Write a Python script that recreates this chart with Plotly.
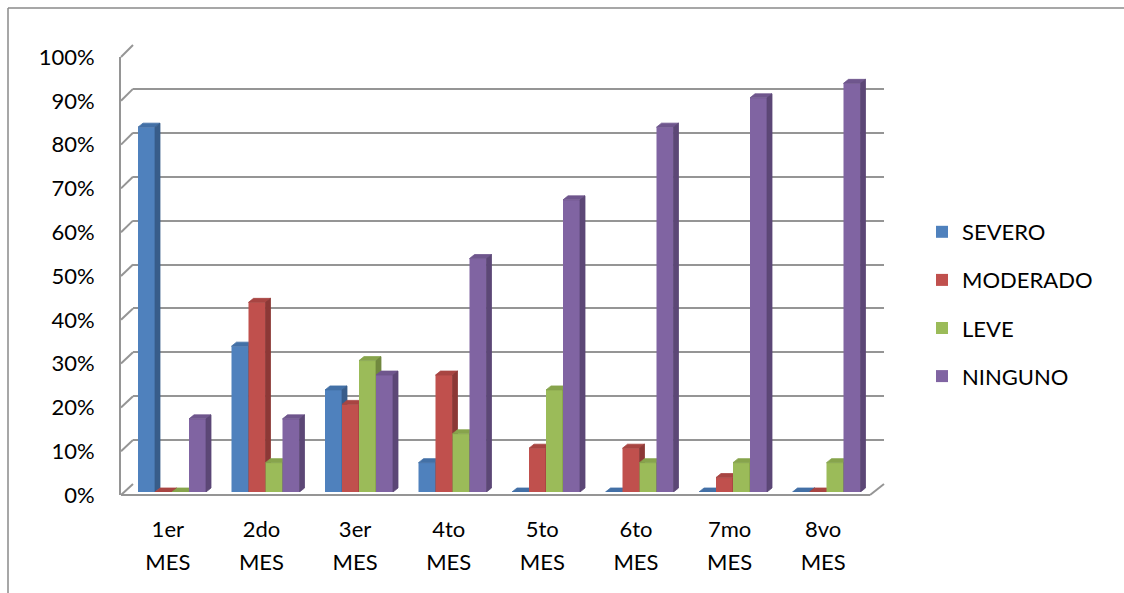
import plotly.graph_objects as go

# ---- data -------------------------------------------------------------
meses = ["1er", "2do", "3er", "4to", "5to", "6to", "7mo", "8vo"]
mes_label = ["MES"] * len(meses)
severo = [83.3, 33.3, 23.3, 6.7, 0, 0, 0, 0]
moderado = [0, 43.3, 20.0, 26.7, 10.0, 10.0, 3.3, 0]
leve = [0, 6.7, 30.0, 13.3, 23.3, 6.7, 6.7, 6.7]
ninguno = [16.7, 16.7, 26.7, 53.3, 66.7, 83.3, 90.0, 93.3]
y_ticks = list(range(0, 101, 10))
y_ticktext = [f"{v}%" for v in y_ticks]

series = [
    ("SEVERO", severo, "#4F81BD", "#4370A6", "#385D8A"),
    ("MODERADO", moderado, "#C0504D", "#A84542", "#8C3836"),
    ("LEVE", leve, "#9BBB59", "#87A44C", "#71893F"),
    ("NINGUNO", ninguno, "#8064A2", "#6F568D", "#5C4776"),
]

# ---- layout helpers (pixel -> paper) ---------------------------------
W, H = 1124, 593
FONT = "Lato"


def fx(px):
    return px / W


def fy(py):
    return 1 - py / H


BACK_X, BACK_Y = (133, 884), (45, 484)      # back wall
BAR_X, BAR_Y = (125.25, 873.25), (54, 492)  # column fronts
FRONT_X, FRONT_Y = (121, 870), (57, 495)    # front axis plane

n = len(meses)
bw = 17 / ((BAR_X[1] - BAR_X[0]) / n)       # column width in category units
dx = 5 / ((BAR_X[1] - BAR_X[0]) / n)        # depth offset (x units)
dy = 4 / ((BAR_Y[1] - BAR_Y[0]) / 100)      # depth offset (y units)

fig = go.Figure()

# back wall subplot (gridlines only)
fig.add_trace(go.Scatter(x=[None], y=[None], xaxis="x", yaxis="y",
                         showlegend=False, hoverinfo="skip"))

for k, (name, vals, c_front, c_top, c_side) in enumerate(series):
    ax = str(k + 2)
    off = (k - 1.5) * bw
    xs = [i + off for i in range(n)]
    fig.add_trace(go.Bar(
        x=xs, y=vals, width=bw, name=name, marker=dict(color=c_front, line=dict(width=0)),
        xaxis="x" + ax, yaxis="y" + ax, legendgroup=name,
    ))
    top_x, top_y, side_x, side_y = [], [], [], []
    for xc, v in zip(xs, vals):
        L, R = xc - bw / 2, xc + bw / 2
        top_x += [L, L + dx, R + dx, R, L, None]
        top_y += [v, v + dy, v + dy, v, v, None]
        side_x += [R, R + dx, R + dx, R, R, None]
        side_y += [0, dy, v + dy, v, 0, None]
    for px_, py_, col in ((top_x, top_y, c_top), (side_x, side_y, c_side)):
        fig.add_trace(go.Scatter(
            x=px_, y=py_, mode="lines", fill="toself", fillcolor=col,
            line=dict(color=col, width=0.8), xaxis="x" + ax, yaxis="y" + ax,
            showlegend=False, hoverinfo="skip", legendgroup=name,
        ))

# front axis subplot (tick labels)
fig.add_trace(go.Scatter(x=[None], y=[None], xaxis="x6", yaxis="y6",
                         showlegend=False, hoverinfo="skip"))

GRID = "#959595"
layout = dict(
    width=W, height=H, autosize=False,
    margin=dict(l=0, r=0, t=0, b=0, pad=0, autoexpand=False),
    paper_bgcolor="white", plot_bgcolor="rgba(0,0,0,0)",
    font=dict(family=FONT, size=22, color="#000000"),
    barmode="overlay",
    showlegend=True,
    legend=dict(x=fx(922), y=fy(211), xanchor="left", yanchor="top",
                font=dict(family=FONT, size=22), tracegroupgap=16.5,
                bgcolor="rgba(0,0,0,0)", itemclick=False),
    xaxis=dict(domain=[fx(BACK_X[0]), fx(BACK_X[1])], range=[0, 1],
               visible=False, anchor="y", automargin=False),
    yaxis=dict(domain=[fy(BACK_Y[1]), fy(BACK_Y[0])], range=[0, 100],
               tickvals=y_ticks, showgrid=True, gridcolor=GRID, gridwidth=2,
               showticklabels=False, zeroline=False, showline=False, anchor="x",
               automargin=False),
    xaxis6=dict(domain=[fx(FRONT_X[0]), fx(FRONT_X[1])], range=[-0.5, n - 0.5],
                tickvals=list(range(n)), ticktext=meses, showgrid=False,
                zeroline=False, showline=False, ticks="", anchor="y6",
                ticklabelstandoff=19, tickfont=dict(family=FONT, size=22),
                automargin=False),
    xaxis7=dict(domain=[fx(FRONT_X[0]), fx(FRONT_X[1])], range=[-0.5, n - 0.5],
                tickvals=list(range(n)), ticktext=mes_label, showgrid=False,
                zeroline=False, showline=False, ticks="", anchor="y6",
                overlaying="x6", side="bottom",
                ticklabelstandoff=52, tickfont=dict(family=FONT, size=22),
                automargin=False),
    yaxis6=dict(domain=[fy(FRONT_Y[1]), fy(FRONT_Y[0])], range=[0, 100],
                tickvals=y_ticks, ticktext=y_ticktext, showgrid=False,
                zeroline=False, showline=True, linecolor=GRID, linewidth=2,
                ticks="", ticklabelstandoff=20, anchor="x6",
                tickfont=dict(family=FONT, size=22), automargin=False),
)
for k in range(4):
    ax = str(k + 2)
    layout["xaxis" + ax] = dict(domain=[fx(BAR_X[0]), fx(BAR_X[1])],
                                range=[-0.5, n - 0.5], visible=False,
                                anchor="y" + ax, automargin=False)
    layout["yaxis" + ax] = dict(domain=[fy(BAR_Y[1]), fy(BAR_Y[0])],
                                range=[0, 100], visible=False,
                                anchor="x" + ax, automargin=False)
fig.update_layout(**layout)

# dummy trace so the second category-label axis is drawn
fig.add_trace(go.Scatter(x=[None], y=[None], xaxis="x7", yaxis="y6",
                         showlegend=False, hoverinfo="skip"))

# floor outline and depth connectors from the front axis to the back wall
shapes = []
line = dict(color=GRID, width=2)
for v in y_ticks:
    yf = FRONT_Y[1] - (FRONT_Y[1] - FRONT_Y[0]) * v / 100
    yb = BACK_Y[1] - (BACK_Y[1] - BACK_Y[0]) * v / 100
    shapes.append(dict(type="line", xref="paper", yref="paper", layer="below",
                       x0=fx(FRONT_X[0]), y0=fy(yf), x1=fx(BACK_X[0]), y1=fy(yb),
                       line=line))
shapes.append(dict(type="line", xref="paper", yref="paper", layer="below",
                   x0=fx(FRONT_X[0]), y0=fy(FRONT_Y[1]), x1=fx(FRONT_X[1]),
                   y1=fy(FRONT_Y[1]), line=line))
shapes.append(dict(type="line", xref="paper", yref="paper", layer="below",
                   x0=fx(FRONT_X[1]), y0=fy(FRONT_Y[1]), x1=fx(BACK_X[1]),
                   y1=fy(BACK_Y[1]), line=line))
# chart frame: top edge and left edge only
frame = dict(color="#8a8a8a", width=1.5)
shapes.append(dict(type="line", xref="paper", yref="paper", layer="below",
                   x0=fx(8), y0=fy(8), x1=fx(1124), y1=fy(8), line=frame))
shapes.append(dict(type="line", xref="paper", yref="paper", layer="below",
                   x0=fx(8), y0=fy(8), x1=fx(8), y1=fy(593), line=frame))
fig.update_layout(shapes=shapes)

fig.write_html("out.html", config={"responsive": False, "displayModeBar": False})
